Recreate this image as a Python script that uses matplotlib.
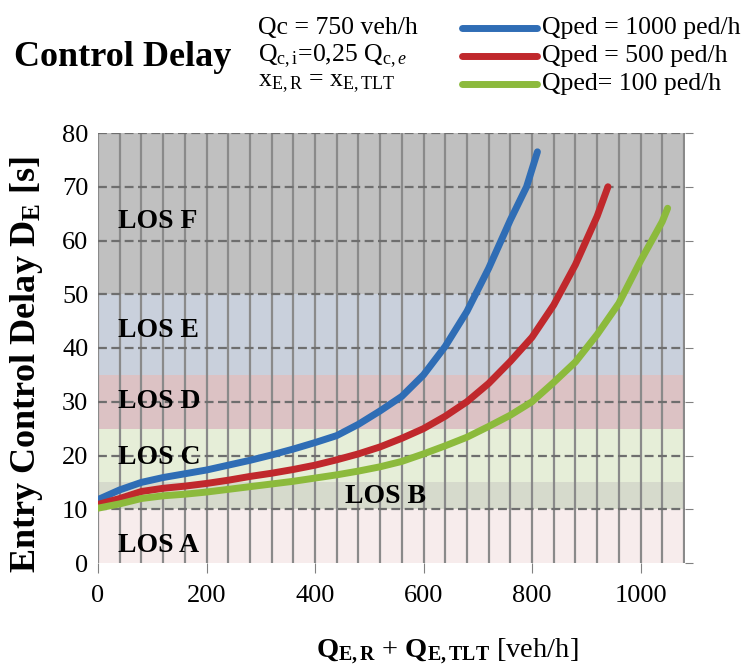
import matplotlib
matplotlib.use("Agg")
import matplotlib.pyplot as plt

plt.rcParams['font.family'] = ['Liberation Serif', 'DejaVu Serif']
plt.rcParams['mathtext.fontset'] = 'custom'
plt.rcParams['mathtext.rm'] = 'Liberation Serif'
plt.rcParams['mathtext.it'] = 'Liberation Serif:italic'
plt.rcParams['mathtext.bf'] = 'Liberation Serif:bold'

# ---- data ----
x_1000 = [0, 40, 80, 120, 160, 200, 240, 280, 320, 360, 400, 440, 480, 520, 560,
          600, 640, 680, 720, 760, 790, 810]
d_1000 = [11.8, 13.6, 15.0, 15.9, 16.6, 17.3, 18.2, 19.1, 20.1, 21.2, 22.4, 23.7,
          25.8, 28.3, 31.0, 35.0, 40.3, 46.8, 54.8, 63.8, 70.0, 76.5]

x_500 = [0, 40, 80, 120, 160, 200, 240, 280, 320, 360, 400, 440, 480, 520, 560,
         600, 640, 680, 720, 760, 800, 840, 880, 920, 940]
d_500 = [10.9, 12.0, 13.3, 13.9, 14.3, 14.8, 15.4, 16.1, 16.7, 17.4, 18.2, 19.2,
         20.3, 21.6, 23.2, 25.0, 27.3, 30.0, 33.4, 37.5, 42.0, 48.0, 55.5, 64.5, 70.0]

x_100 = [0, 40, 80, 120, 160, 200, 240, 280, 320, 360, 400, 440, 480, 520, 560,
         600, 640, 680, 720, 760, 800, 840, 880, 920, 960, 1000, 1040, 1050]
d_100 = [10.2, 11.0, 12.0, 12.5, 12.8, 13.2, 13.7, 14.2, 14.7, 15.2, 15.8, 16.4,
         17.1, 17.9, 18.9, 20.3, 21.8, 23.4, 25.4, 27.5, 30.0, 33.6, 37.4, 42.5,
         48.3, 56.2, 63.5, 66.0]

series_labels = ["Qped = 1000 ped/h", "Qped = 500 ped/h", "Qped= 100 ped/h"]
series_colors = ["#2f6db5", "#c0282c", "#8cba3c"]

los_names = ["LOS A", "LOS B", "LOS C", "LOS D", "LOS E", "LOS F"]
los_bounds = [0, 10, 15, 25, 35, 50, 80]
los_colors = ["#f7ecec", "#d6dacc", "#e6eed8", "#dcc2c4", "#c9d0dc", "#c0c0c0"]
los_label_pos = [(37, 3.2), (455, 12.3), (37, 19.7), (37, 30.0), (37, 43.3), (37, 63.5)]

xticks = [0, 200, 400, 600, 800, 1000]
yticks = [0, 10, 20, 30, 40, 50, 60, 70, 80]

# ---- figure ----
fig = plt.figure(figsize=(7.45, 6.67), dpi=100)
ax = fig.add_axes([98/745, 1-563/667, (685-98)/745, (563-133)/667])
ax.set_xlim(0, 1082)
ax.set_ylim(0, 80)

for lo, hi, c in zip(los_bounds[:-1], los_bounds[1:], los_colors):
    ax.axhspan(lo, hi, color=c, zorder=0, lw=0)

for xv in range(0, 1081, 40):
    ax.axvline(xv, color="#8a8a8a", lw=1.6, zorder=1)
for yv in yticks[1:]:
    ax.axhline(yv, color="#6e6e6e", lw=1.6, ls=(0, (4, 2)), zorder=1)

for (nm, (lx, ly)) in zip(los_names, los_label_pos):
    ax.text(lx, ly, nm, fontsize=20, fontweight='bold', va='center', ha='left', zorder=2)

for xs, ds, lab, col in zip([x_1000, x_500, x_100], [d_1000, d_500, d_100],
                            series_labels, series_colors):
    ax.plot(xs, ds, color=col, lw=5, solid_capstyle='round', label=lab, zorder=3)

for s in ax.spines.values():
    s.set_visible(False)

ax.set_xticks(xticks)
ax.set_yticks(yticks)
ax.tick_params(axis='x', direction='out', length=7, color='#808080', pad=9, labelsize=19)
ax.tick_params(axis='y', left=False, right=True, labelleft=True, labelright=False,
               direction='out', length=6, color='#808080', pad=1, labelsize=19)

fig.text(27/745, 1-365/667, r"Entry Control Delay D$_{\mathbf{E}}$ [s]", fontsize=26,
         fontweight='bold', rotation=90, ha='center', va='center')
fig.text(447/745, 1-652/667, r"$\mathbf{Q_{E,R}}$ + $\mathbf{Q_{E,TLT}}$ [veh/h]",
         fontsize=20.5, ha='center', va='center')

# header
fig.text(14/745, 1-57/667, "Control Delay", fontsize=26, fontweight='bold', ha='left', va='center')
fig.text(258/745, 1-28/667, "Qc = 750 veh/h", fontsize=18.5, ha='left', va='center')
fig.text(258/745, 1-56/667, r"Q$_{\mathrm{c,i}}$=0,25 Q$_{\mathrm{c,}e}$", fontsize=18.5, ha='left', va='center')
fig.text(258/745, 1-84/667, r"x$_{\mathrm{E,R}}$ = x$_{\mathrm{E,TLT}}$", fontsize=18.5, ha='left', va='center')

for i, (lab, col) in enumerate(zip(series_labels, series_colors)):
    yy = 1 - (28 + 28*i)/667
    fig.add_artist(plt.Line2D([462/745, 537/745], [yy, yy], color=col, lw=5,
                              solid_capstyle='round', transform=fig.transFigure))
    fig.text(542/745, yy, lab, fontsize=18.5, ha='left', va='center')

fig.savefig("out.png", dpi=100)
